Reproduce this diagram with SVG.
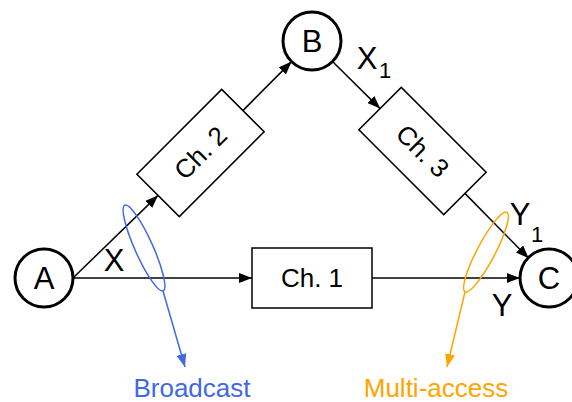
<svg xmlns="http://www.w3.org/2000/svg" width="572" height="402" viewBox="0 0 572 402">
  <defs>
    <marker id="arrow" markerWidth="14" markerHeight="10" refX="13" refY="5" orient="auto" markerUnits="userSpaceOnUse">
      <path d="M0,0 L13,5 L0,10 Z" fill="#000"/>
    </marker>
    <marker id="arrow-blue" markerWidth="14" markerHeight="10" refX="13" refY="5" orient="auto" markerUnits="userSpaceOnUse">
      <path d="M0,0 L13,5 L0,10 Z" fill="#4169E1"/>
    </marker>
    <marker id="arrow-orange" markerWidth="14" markerHeight="10" refX="13" refY="5" orient="auto" markerUnits="userSpaceOnUse">
      <path d="M0,0 L13,5 L0,10 Z" fill="#FFA500"/>
    </marker>
  </defs>
  <style>
    text { font-family: "Liberation Sans", Arial, Helvetica, sans-serif; }
    .node { fill: #fff; stroke: #000; stroke-width: 3; }
    .box { fill: #fff; stroke: #000; stroke-width: 1.5; }
    .edge { fill: none; stroke: #000; stroke-width: 1.5; marker-end: url(#arrow); }
    .lbl { font-size: 31px; fill: #000; text-anchor: middle; }
    .sub { font-size: 22px; fill: #000; }
    .ch { font-size: 26px; fill: #000; text-anchor: middle; }
    .note { font-size: 26px; text-anchor: middle; }
  </style>

  <rect width="572" height="402" fill="#fff"/>

  <!-- connectors -->
  <g id="connectors">
    <line class="edge" x1="73" y1="278" x2="158" y2="195.4"/>
    <line class="edge" x1="242.9" y1="110.6" x2="291.6" y2="61.6"/>
    <line class="edge" x1="332.5" y1="61.5" x2="380.1" y2="108.6"/>
    <line class="edge" x1="464.9" y1="193.4" x2="528.7" y2="258.3"/>
    <line class="edge" x1="73" y1="278" x2="252" y2="278"/>
    <line class="edge" x1="372" y1="278" x2="520" y2="278"/>
  </g>

  <!-- nodes -->
  <g id="node-A">
    <circle class="node" cx="44" cy="278" r="29"/>
    <text class="lbl" x="44" y="289">A</text>
  </g>
  <g id="node-B">
    <circle class="node" cx="312" cy="41" r="29"/>
    <text class="lbl" x="312" y="52">B</text>
  </g>
  <g id="node-C">
    <circle class="node" cx="549" cy="278" r="29"/>
    <text class="lbl" x="549" y="289">C</text>
  </g>
  <g id="ch1">
    <rect class="box" x="252" y="248" width="120" height="60"/>
    <text class="ch" x="312" y="287">Ch. 1</text>
  </g>
  <g id="ch2" transform="translate(200.5,153) rotate(-45)">
    <rect class="box" x="-60" y="-30" width="120" height="60"/>
    <text class="ch" x="0" y="9">Ch. 2</text>
  </g>
  <g id="ch3" transform="translate(422.5,151) rotate(45)">
    <rect class="box" x="-60" y="-30" width="120" height="60"/>
    <text class="ch" x="0" y="9">Ch. 3</text>
  </g>

  <!-- signal labels -->
  <g id="signal-labels">
    <text class="lbl" x="114" y="271">X</text>
    <text class="lbl" x="367" y="69">X</text>
    <text class="sub" x="379" y="78">1</text>
    <text class="lbl" x="520" y="225">Y</text>
    <text class="sub" x="531" y="242">1</text>
    <text class="lbl" x="502" y="316">Y</text>
  </g>

  <!-- broadcast annotation -->
  <g id="broadcast">
    <ellipse cx="144" cy="248" rx="47" ry="9" transform="rotate(65.9 144 248)" fill="none" stroke="#4169E1" stroke-width="1.5"/>
    <line x1="163" y1="291" x2="185" y2="367" stroke="#4169E1" stroke-width="1.5" marker-end="url(#arrow-blue)"/>
    <text class="note" x="192" y="397" fill="#4169E1">Broadcast</text>
  </g>

  <!-- multi-access annotation -->
  <g id="multi-access">
    <ellipse cx="486" cy="252" rx="45" ry="9" transform="rotate(-62.3 486 252)" fill="none" stroke="#FFA500" stroke-width="1.5"/>
    <line x1="465" y1="292" x2="447" y2="367" stroke="#FFA500" stroke-width="1.5" marker-end="url(#arrow-orange)"/>
    <text class="note" x="436" y="397" fill="#FFA500">Multi-access</text>
  </g>
</svg>
